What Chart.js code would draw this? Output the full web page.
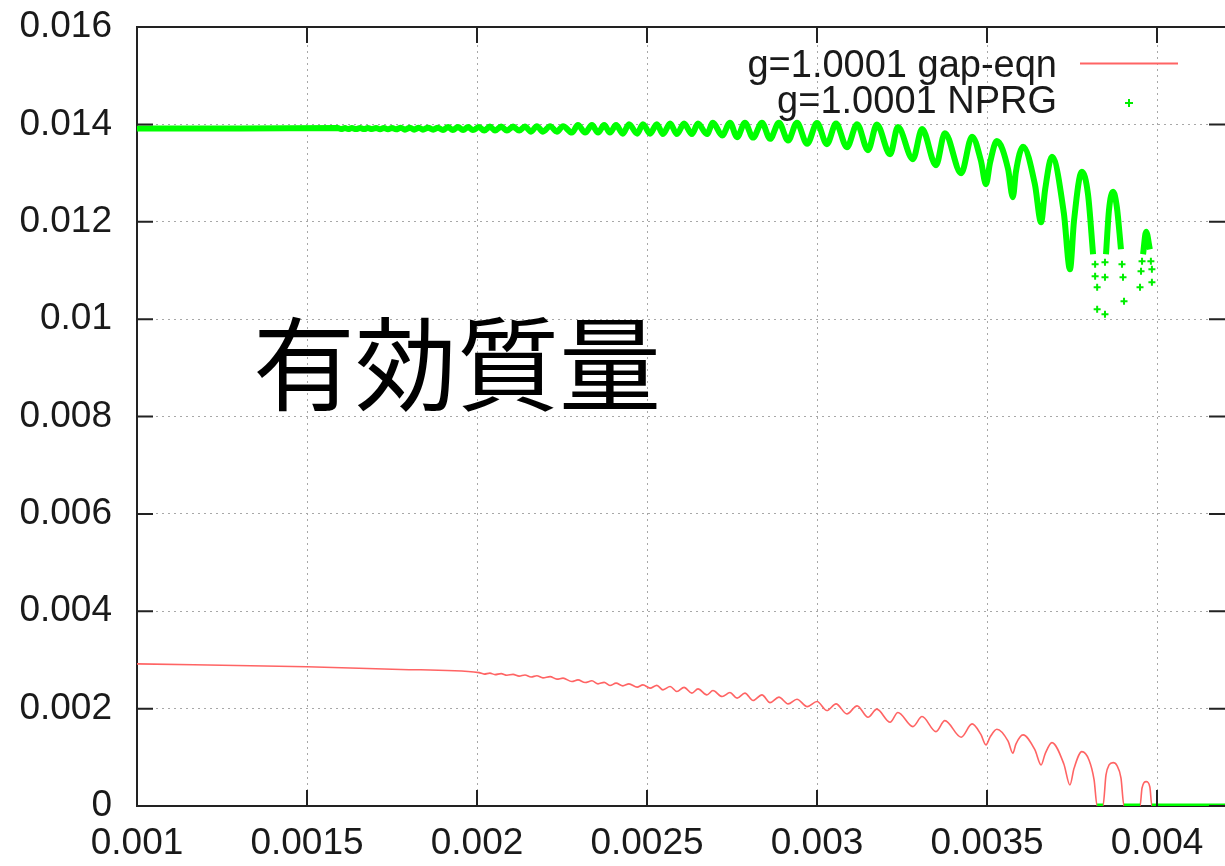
<!DOCTYPE html>
<html>
<head>
<meta charset="utf-8">
<script src="https://cdn.jsdelivr.net/npm/chart.js@4.4.1/dist/chart.umd.min.js"></script>
<style>
html, body { margin: 0; padding: 0; background: #fff; overflow: hidden; }
</style>
</head>
<body>
<canvas id="plots" width="1225" height="866"></canvas>
<script>
// tick values and labels
var xTicks = [0.001, 0.0015, 0.002, 0.0025, 0.003, 0.0035, 0.004];
var xTickLabels = ['0.001', '0.0015', '0.002', '0.0025', '0.003', '0.0035', '0.004'];
var yTicks = [0, 0.002, 0.004, 0.006, 0.008, 0.010, 0.012, 0.014, 0.016];
var yTickLabels = ['0', '0.002', '0.004', '0.006', '0.008', '0.01', '0.012', '0.014', '0.016'];
var seriesLabels = ['g=1.0001 gap-eqn', 'g=1.0001 NPRG'];
var noteText = '有効質量';

// gap equation (red line)
var gapX = [0.001000, 0.001500, 0.001776, 0.002006, 0.002021, 0.002038, 0.002053, 0.002071, 0.002088, 0.002106,
  0.002124, 0.002141, 0.002159, 0.002176, 0.002194, 0.002215, 0.002235, 0.002253, 0.002279, 0.002297,
  0.002318, 0.002338, 0.002356, 0.002374, 0.002391, 0.002409, 0.002429, 0.002447, 0.002471, 0.002488,
  0.002509, 0.002529, 0.002547, 0.002568, 0.002588, 0.002609, 0.002632, 0.002650, 0.002676, 0.002694,
  0.002721, 0.002744, 0.002765, 0.002788, 0.002812, 0.002838, 0.002862, 0.002888, 0.002915, 0.002941,
  0.002971, 0.003000, 0.003029, 0.003056, 0.003088, 0.003118, 0.003150, 0.003176, 0.003215, 0.003238,
  0.003282, 0.003309, 0.003350, 0.003376, 0.003424, 0.003456, 0.003482, 0.003497, 0.003509, 0.003529,
  0.003562, 0.003576, 0.003585, 0.003606, 0.003641, 0.003659, 0.003671, 0.003691, 0.003726, 0.003744,
  0.003756, 0.003779, 0.003800, 0.003815, 0.003824, 0.003841, 0.003850, 0.003859, 0.003871, 0.003882,
  0.003894, 0.003903, 0.003950, 0.003956, 0.003968, 0.003979, 0.003985, 0.004200];
var gapY = [0.002920, 0.002860, 0.002805, 0.002739, 0.002709, 0.002729, 0.002699, 0.002719, 0.002685, 0.002704,
  0.002668, 0.002690, 0.002651, 0.002674, 0.002632, 0.002657, 0.002605, 0.002626, 0.002556, 0.002591,
  0.002536, 0.002571, 0.002509, 0.002540, 0.002474, 0.002523, 0.002468, 0.002509, 0.002441, 0.002488,
  0.002421, 0.002478, 0.002386, 0.002453, 0.002351, 0.002437, 0.002318, 0.002406, 0.002283, 0.002371,
  0.002248, 0.002330, 0.002215, 0.002318, 0.002166, 0.002283, 0.002124, 0.002236, 0.002098, 0.002194,
  0.002042, 0.002145, 0.001960, 0.002098, 0.001892, 0.002057, 0.001824, 0.001989, 0.001721, 0.001919,
  0.001631, 0.001837, 0.001528, 0.001754, 0.001413, 0.001686, 0.001470, 0.001255, 0.001415, 0.001577,
  0.001331, 0.001084, 0.001271, 0.001460, 0.001152, 0.000843, 0.001071, 0.001302, 0.000864, 0.000432,
  0.000773, 0.001117, 0.000946, 0.000535, 0, 0, 0.000638, 0.000843, 0.000891, 0.000833,
  0.000576, 0, 0, 0.000370, 0.000500, 0.000391, 0, 0];

// NPRG (green), connected part
var nprgX = [0.001000, 0.001300, 0.001591, 0.001600, 0.001612, 0.001621, 0.001632, 0.001644, 0.001656, 0.001668,
  0.001679, 0.001691, 0.001703, 0.001715, 0.001726, 0.001738, 0.001750, 0.001762, 0.001776, 0.001788,
  0.001803, 0.001815, 0.001829, 0.001841, 0.001856, 0.001871, 0.001885, 0.001900, 0.001915, 0.001929,
  0.001944, 0.001959, 0.001974, 0.001988, 0.002006, 0.002021, 0.002038, 0.002053, 0.002071, 0.002088,
  0.002106, 0.002124, 0.002141, 0.002159, 0.002176, 0.002194, 0.002215, 0.002235, 0.002253, 0.002279,
  0.002297, 0.002318, 0.002338, 0.002356, 0.002374, 0.002391, 0.002409, 0.002429, 0.002447, 0.002471,
  0.002488, 0.002509, 0.002529, 0.002547, 0.002568, 0.002588, 0.002609, 0.002632, 0.002650, 0.002676,
  0.002694, 0.002721, 0.002744, 0.002765, 0.002788, 0.002812, 0.002838, 0.002862, 0.002888, 0.002915,
  0.002941, 0.002971, 0.003000, 0.003029, 0.003056, 0.003088, 0.003118, 0.003150, 0.003176, 0.003215,
  0.003238, 0.003282, 0.003309, 0.003350, 0.003376, 0.003424, 0.003456, 0.003482, 0.003497, 0.003509,
  0.003529, 0.003562, 0.003576, 0.003585, 0.003606, 0.003641, 0.003659, 0.003671, 0.003691, 0.003726,
  0.003744, 0.003756, 0.003779, 0.003797, 0.003812, 0.003830, 0.003850, 0.003859, 0.003871, 0.003882,
  0.003894, 0.003925, 0.003959, 0.003968, 0.003979];
var nprgY = [0.013913, 0.013913, 0.013923, 0.013903, 0.013923, 0.013903, 0.013923, 0.013903, 0.013923, 0.013903,
  0.013923, 0.013903, 0.013927, 0.013898, 0.013927, 0.013898, 0.013927, 0.013898, 0.013933, 0.013892,
  0.013933, 0.013892, 0.013933, 0.013892, 0.013933, 0.013892, 0.013933, 0.013882, 0.013944, 0.013882,
  0.013944, 0.013882, 0.013944, 0.013882, 0.013944, 0.013872, 0.013954, 0.013872, 0.013954, 0.013872,
  0.013954, 0.013872, 0.013954, 0.013851, 0.013964, 0.013851, 0.013964, 0.013851, 0.013964, 0.013831,
  0.013985, 0.013831, 0.013985, 0.013831, 0.013985, 0.013831, 0.013985, 0.013810, 0.014005, 0.013810,
  0.014005, 0.013810, 0.014005, 0.013800, 0.014016, 0.013800, 0.014016, 0.013800, 0.014016, 0.013800,
  0.014032, 0.013773, 0.014032, 0.013738, 0.014032, 0.013728, 0.014032, 0.013703, 0.014032, 0.013670,
  0.014032, 0.013600, 0.014026, 0.013594, 0.014016, 0.013532, 0.014005, 0.013471, 0.013995, 0.013388,
  0.013944, 0.013286, 0.013903, 0.013162, 0.013820, 0.012998, 0.013748, 0.013259, 0.012771, 0.013214,
  0.013656, 0.013080, 0.012504, 0.013022, 0.013543, 0.012765, 0.011990, 0.012662, 0.013337, 0.012179,
  0.011023, 0.012025, 0.013029, 0.012566, 0.011332, null, 0.011332, 0.012257, 0.012617, 0.012298,
  0.011435, null, 0.011332, 0.011795, 0.011435];

// NPRG sparse points in the deep dips
var nprgDotsX = [0.003818, 0.003818, 0.003824, 0.003824, 0.003847, 0.003847, 0.003847, 0.003897, 0.003900, 0.003903,
  0.003950, 0.003953, 0.003956, 0.003982, 0.003985, 0.003985];
var nprgDotsY = [0.011126, 0.010879, 0.010653, 0.010201, 0.010098, 0.010859, 0.011167, 0.011126, 0.010859, 0.010365,
  0.010653, 0.010982, 0.011188, 0.011188, 0.011023, 0.010756];

// NPRG points lying on zero
var nprgZeroX = [0.003824, 0.003841, 0.003870, 0.003903, 0.003950, 0.003968, 0.003985, 0.004200];
var nprgZeroY = [0, 0, null, 0, 0, null, 0, 0];

function pts(xs, ys) {
  return xs.map(function (x, i) { return { x: x, y: ys[i] }; });
}

Chart.defaults.font.family = '"Liberation Sans", Arial, sans-serif';
Chart.defaults.color = '#1a1a1a';

// frame, inward tics, key and the note
var framePlugin = {
  id: 'frame',
  afterDatasetsDraw: function (chart) {
    var ctx = chart.ctx, a = chart.chartArea, sx = chart.scales.x, sy = chart.scales.y;
    ctx.save();
    ctx.strokeStyle = '#222';
    ctx.lineWidth = 2;
    ctx.beginPath();
    ctx.moveTo(a.left, a.top);
    ctx.lineTo(a.right, a.top);
    xTicks.forEach(function (v) {
      var px = sx.getPixelForValue(v);
      ctx.moveTo(px, a.bottom); ctx.lineTo(px, a.bottom - 16);
      ctx.moveTo(px, a.top); ctx.lineTo(px, a.top + 16);
    });
    yTicks.forEach(function (v) {
      var py = sy.getPixelForValue(v);
      ctx.moveTo(a.left, py); ctx.lineTo(a.left + 16, py);
      ctx.moveTo(a.right, py); ctx.lineTo(a.right - 16, py);
    });
    ctx.stroke();

    // key
    ctx.fillStyle = '#1a1a1a';
    ctx.font = '38px "Liberation Sans", Arial, sans-serif';
    ctx.textAlign = 'right';
    ctx.textBaseline = 'alphabetic';
    ctx.fillText(seriesLabels[0], a.right - 168, 77);
    ctx.fillText(seriesLabels[1], a.right - 168, 113);
    ctx.strokeStyle = '#ff6464';
    ctx.lineWidth = 2;
    ctx.beginPath();
    ctx.moveTo(a.right - 145, 63.5);
    ctx.lineTo(a.right - 47, 63.5);
    ctx.stroke();
    ctx.strokeStyle = '#00ee00';
    ctx.beginPath();
    ctx.moveTo(a.right - 100, 103); ctx.lineTo(a.right - 92, 103);
    ctx.moveTo(a.right - 96, 99); ctx.lineTo(a.right - 96, 107);
    ctx.stroke();

    // big note
    ctx.fillStyle = '#000';
    ctx.textAlign = 'left';
    ctx.font = '102px "Noto Sans CJK JP"';
    ctx.fillText(noteText, a.left + 116, a.top + 376);
    ctx.restore();
  }
};

var axisStyle = function (ticks, labels, pad) {
  return {
    afterBuildTicks: function (s) { s.ticks = ticks.map(function (v) { return { value: v }; }); },
    ticks: {
      font: { size: 37 }, padding: pad, autoSkip: false, maxRotation: 0,
      callback: function (v, i) { return labels[i]; }
    },
    grid: { color: '#a8a8a8', lineWidth: 1, drawTicks: false },
    border: { color: '#222', width: 2, dash: [2, 4] }
  };
};

var xOpts = axisStyle(xTicks, xTickLabels, 16);
xOpts.type = 'linear';
xOpts.min = 0.001;
xOpts.max = 0.0042;
xOpts.afterFit = function (s) { s.height = 60; s.paddingLeft = 0; s.paddingRight = 0; };

var yOpts = axisStyle(yTicks, yTickLabels, 25);
yOpts.min = 0;
yOpts.max = 0.016;
yOpts.afterFit = function (s) { s.width = 137; s.paddingTop = 0; s.paddingBottom = 0; };

new Chart(document.getElementById('plots'), {
  type: 'line',
  data: {
    datasets: [
      {
        label: 'zero',
        data: pts(nprgZeroX, nprgZeroY),
        borderColor: '#00ff00', borderWidth: 5, pointRadius: 0, spanGaps: false
      },
      {
        label: 'dots',
        data: pts(nprgDotsX, nprgDotsY),
        showLine: false, pointStyle: 'cross', pointRadius: 3.5, pointBorderWidth: 2,
        pointBorderColor: '#00ee00', borderColor: '#00ee00'
      },
      {
        label: seriesLabels[1],
        data: pts(nprgX, nprgY),
        borderColor: '#00ff00', borderWidth: 6, pointRadius: 0,
        cubicInterpolationMode: 'monotone', spanGaps: false
      },
      {
        label: seriesLabels[0],
        data: pts(gapX, gapY),
        borderColor: '#ff6464', borderWidth: 1.6, pointRadius: 0,
        cubicInterpolationMode: 'monotone'
      }
    ]
  },
  options: {
    responsive: false,
    animation: false,
    devicePixelRatio: 1,
    layout: { autoPadding: false, padding: { top: 27, right: 0, bottom: 0, left: 0 } },
    plugins: { legend: { display: false }, tooltip: { enabled: false } },
    scales: { x: xOpts, y: yOpts }
  },
  plugins: [framePlugin]
});
</script>
</body>
</html>
